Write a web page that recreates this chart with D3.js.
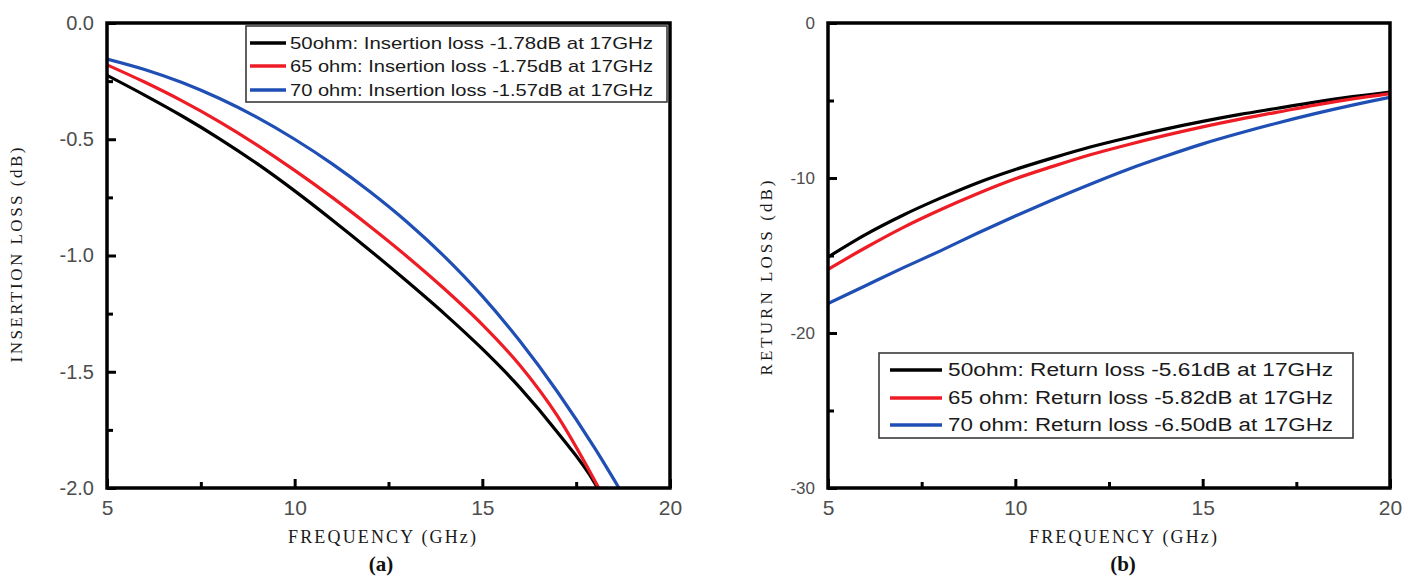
<!DOCTYPE html>
<html><head><meta charset="utf-8">
<script src="https://cdn.jsdelivr.net/npm/d3@7"></script>
<style>
html,body{margin:0;padding:0;background:#fff;}
svg{display:block;}
</style></head>
<body>
<svg id="c" width="1421" height="578"></svg>
<script>
// ---------- DATA ----------
// Panel (a): insertion loss (dB) vs frequency (GHz)
const ilFreq50 = [5,6,7,8,9,10,11,12,13,14,15,16,17,18,18.07];
const il50     = [-0.225,-0.31,-0.40,-0.498,-0.605,-0.722,-0.847,-0.977,-1.112,-1.252,-1.402,-1.568,-1.76,-1.98,-2.0];
const ilFreq65 = [5,6,7,8,9,10,11,12,13,14,15,16,17,18,18.1];
const il65     = [-0.18,-0.254,-0.335,-0.425,-0.525,-0.634,-0.75,-0.874,-1.005,-1.145,-1.297,-1.472,-1.69,-1.97,-2.0];
const ilFreq70 = [5,6,7,8,9,10,11,12,13,14,15,16,17,18,18.64];
const il70     = [-0.155,-0.20,-0.256,-0.325,-0.406,-0.50,-0.606,-0.725,-0.857,-1.006,-1.175,-1.368,-1.586,-1.83,-2.0];
// Panel (b): return loss (dB) vs frequency (GHz)
const rlFreq = [5,6,7,8,9,10,11,12,13,14,15,16,17,18,19,20];
const rl50   = [-15.1,-13.65,-12.4,-11.3,-10.3,-9.45,-8.7,-8.0,-7.4,-6.85,-6.35,-5.9,-5.5,-5.1,-4.75,-4.45];
const rl65   = [-15.9,-14.5,-13.2,-12.05,-11.0,-10.05,-9.25,-8.5,-7.85,-7.25,-6.7,-6.2,-5.75,-5.3,-4.9,-4.55];
const rl70   = [-18.1,-16.95,-15.8,-14.7,-13.55,-12.45,-11.4,-10.4,-9.45,-8.6,-7.8,-7.1,-6.45,-5.85,-5.3,-4.8];

const xTicks = [5,10,15,20];
const xMinor = [7.5,12.5,17.5];
const ilTicks = [0,-0.5,-1.0,-1.5,-2.0];
const ilMinor = [-0.25,-0.75,-1.25,-1.75];
const rlTicks = [0,-10,-20,-30];
const rlMinor = [-5,-15,-25];

const colors = ["#000000","#ee1c25","#1f4fb4"];
const ilLegend = ["50ohm: Insertion loss -1.78dB at 17GHz","65 ohm: Insertion loss -1.75dB at 17GHz","70 ohm: Insertion loss -1.57dB at 17GHz"];
const rlLegend = ["50ohm: Return loss -5.61dB at 17GHz","65 ohm: Return loss -5.82dB at 17GHz","70 ohm: Return loss -6.50dB at 17GHz"];

// ---------- DRAW ----------
const svg = d3.select("#c");
const SANS = "'Liberation Sans', Arial, sans-serif";
const SERIF = "'Liberation Serif', 'Times New Roman', serif";
const loc = d3.formatLocale({decimal:".",thousands:",",grouping:[3],currency:["$",""],minus:"-"});

function panel(opt){
  const g = svg.append("g");
  const x = d3.scaleLinear().domain([5,20]).range([opt.x0, opt.x1]);
  const y = d3.scaleLinear().domain(opt.yDomain).range([opt.y1, opt.y0]);
  const clipId = "clip"+opt.id;
  svg.append("clipPath").attr("id",clipId).append("rect")
    .attr("x",opt.x0).attr("y",opt.y0).attr("width",opt.x1-opt.x0).attr("height",opt.y1-opt.y0);

  // curves
  const line = d3.line().x(d=>x(d[0])).y(d=>y(d[1])).curve(d3.curveMonotoneX);
  opt.series.forEach((s,i)=>{
    g.append("path").attr("d", line(d3.zip(s.f, s.v)))
      .attr("fill","none").attr("stroke",colors[i]).attr("stroke-width",3.2)
      .attr("clip-path","url(#"+clipId+")");
  });

  // axes (ticks inward)
  const xAx = d3.axisBottom(x).tickValues(xTicks).tickSize(-9).tickPadding(12).tickFormat(loc.format("d"));
  const xAxMinor = d3.axisBottom(x).tickValues(xMinor).tickSize(-6).tickFormat("");
  const yAx = d3.axisLeft(y).tickValues(opt.yTicks).tickSize(-9).tickPadding(opt.yPad).tickFormat(loc.format(opt.yFmt));
  const yAxMinor = d3.axisLeft(y).tickValues(opt.yMinor).tickSize(-6).tickFormat("");

  const gx = g.append("g").attr("transform",`translate(0,${opt.y1})`).call(xAx);
  g.append("g").attr("transform",`translate(0,${opt.y1})`).call(xAxMinor);
  const gy = g.append("g").attr("transform",`translate(${opt.x0},0)`).call(yAx);
  g.append("g").attr("transform",`translate(${opt.x0},0)`).call(yAxMinor);
  g.selectAll(".domain").remove();
  g.selectAll(".tick line").attr("stroke","#000").attr("stroke-width",3);
  gx.selectAll("text").attr("font-family",SANS).attr("font-size",opt.xFont).attr("fill","#4d4d4d");
  gy.selectAll("text").attr("font-family",SANS).attr("font-size",opt.yFont).attr("fill","#4d4d4d");

  // frame
  g.append("rect").attr("x",opt.x0).attr("y",opt.y0).attr("width",opt.x1-opt.x0).attr("height",opt.y1-opt.y0)
    .attr("fill","none").attr("stroke","#000").attr("stroke-width",3.5);

  // legend
  const L = opt.legend;
  g.append("rect").attr("x",L.x).attr("y",L.y).attr("width",L.w).attr("height",L.h)
    .attr("fill","#fff").attr("stroke","#3a3a3a").attr("stroke-width",1.6);
  L.labels.forEach((t,i)=>{
    const yy = L.rows[i];
    g.append("line").attr("x1",L.lx0).attr("x2",L.lx1).attr("y1",yy).attr("y2",yy)
      .attr("stroke",colors[i]).attr("stroke-width",3.5);
    g.append("text").attr("x",L.tx).attr("y",yy).attr("dy","0.35em")
      .attr("font-family",SANS).attr("font-size",L.font).attr("fill","#1a1a1a")
      .attr("textLength",L.tw).attr("lengthAdjust","spacingAndGlyphs").text(t);
  });

  // axis titles
  g.append("text").attr("x",opt.xtX).attr("y",opt.xtY).attr("text-anchor","middle")
    .attr("font-family",SERIF).attr("font-size",18).attr("fill","#1a1a1a")
    .attr("textLength",188).attr("lengthAdjust","spacing").text("FREQUENCY (GHz)");
  g.append("text").attr("transform",`translate(${opt.ytX},${opt.ytY}) rotate(-90)`).attr("text-anchor","middle")
    .attr("font-family",SERIF).attr("font-size",17).attr("fill","#1a1a1a")
    .attr("textLength",opt.ytLen).attr("lengthAdjust","spacing").text(opt.yTitle);
  g.append("text").attr("x",opt.capX).attr("y",571).attr("text-anchor","middle")
    .attr("font-family",SERIF).attr("font-size",21).attr("font-weight","bold").attr("fill","#111")
    .text(opt.caption);
}

panel({
  id:"a", x0:107, x1:670, y0:23, y1:488, yDomain:[-2.0,0],
  yTicks:ilTicks, yMinor:ilMinor, yFmt:".1f", yPad:13, xFont:21, yFont:20,
  series:[{f:ilFreq50,v:il50},{f:ilFreq65,v:il65},{f:ilFreq70,v:il70}],
  legend:{x:246,y:26,w:421,h:76,rows:[43,66,90],lx0:250,lx1:286,tx:290,tw:363,font:17,labels:ilLegend},
  xtX:382, xtY:543, ytX:22, ytY:255, ytLen:215, yTitle:"INSERTION LOSS (dB)", capX:381, caption:"(a)"
});

panel({
  id:"b", x0:828, x1:1390, y0:23, y1:488, yDomain:[-30,0],
  yTicks:rlTicks, yMinor:rlMinor, yFmt:"d", yPad:13, xFont:21, yFont:17,
  series:[{f:rlFreq,v:rl50},{f:rlFreq,v:rl65},{f:rlFreq,v:rl70}],
  legend:{x:879,y:353,w:474,h:85,rows:[370,398,425],lx0:890,lx1:942,tx:948,tw:385,font:18,labels:rlLegend},
  xtX:1123, xtY:543, ytX:772, ytY:278, ytLen:195, yTitle:"RETURN LOSS (dB)", capX:1123, caption:"(b)"
});
</script>
</body></html>
